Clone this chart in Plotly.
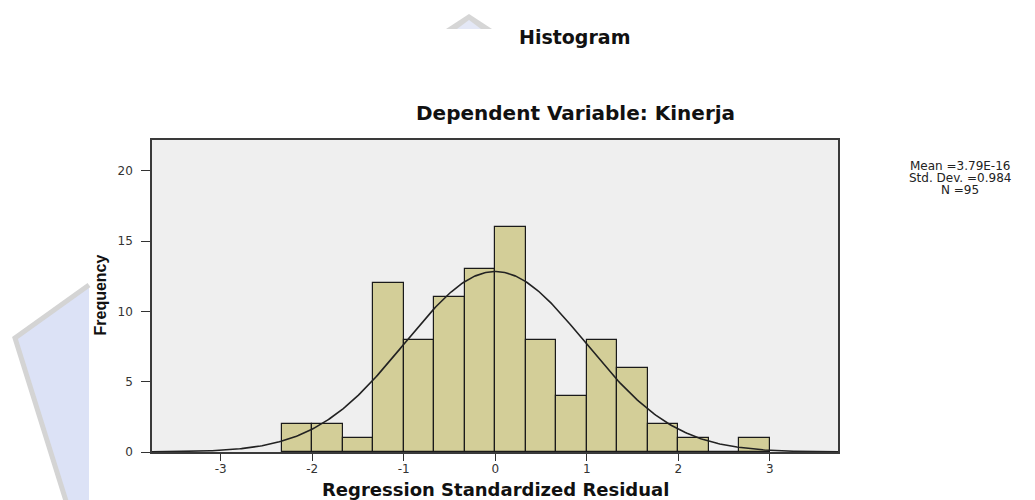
import numpy as np
import plotly.graph_objects as go

# ---- data ----
bin_left = [-7/3, -2.0, -5/3, -4/3, -1.0, -2/3, -1/3, 0.0, 1/3, 2/3, 1.0, 4/3, 5/3, 2.0, 7/3, 8/3]
counts = [2, 2, 1, 12, 8, 11, 13, 16, 8, 4, 8, 6, 2, 1, 0, 1]
bin_width = 1/3
mean_val = 3.79e-16
std_val = 0.984
n_val = 95
x_ticks = [-3, -2, -1, 0, 1, 2, 3]
y_ticks = [0, 5, 10, 15, 20]
stats_lines = ["Mean =3.79E-16", "Std. Dev. =0.984", "N =95"]

# ---- geometry (pixels) ----
W, H = 1035, 500
L, R, T, B = 152, 838, 140, 452
pw, ph = R - L, B - T


def px(x):
    return (x - L) / pw


def py(y):
    return (B - y) / ph


centers = [e + bin_width / 2 for e in bin_left]
xc = np.linspace(-3.75, 3.75, 400)
yc = n_val * bin_width * np.exp(-0.5 * ((xc - mean_val) / std_val) ** 2) / (std_val * np.sqrt(2 * np.pi))

fig = go.Figure()
fig.add_trace(go.Bar(x=centers, y=counts, width=bin_width,
                     marker=dict(color="#D3CE98", line=dict(color="#1a1a1a", width=1.2)),
                     hoverinfo="x+y"))
fig.add_trace(go.Scatter(x=xc, y=yc, mode="lines", line=dict(color="#222222", width=1.6),
                         hoverinfo="skip"))


def path(points):
    s = "M " + " L ".join(f"{px(a):.5f},{py(b):.5f}" for a, b in points)
    return s + " Z"


def line_path(points):
    return "M " + " L ".join(f"{px(a):.5f},{py(b):.5f}" for a, b in points)


shapes = [
    # left watermark
    dict(type="path", xref="paper", yref="paper", layer="below",
         path=path([(89, 285), (15, 338), (66, 500), (89, 500)]),
         fillcolor="#DCE2F6", line=dict(width=0)),
    dict(type="path", xref="paper", yref="paper", layer="below",
         path=line_path([(89, 285), (15, 338), (66, 501)]),
         line=dict(color="#D4D4D4", width=5)),
    # top watermark
    dict(type="path", xref="paper", yref="paper", layer="below",
         path=path([(469, 14), (446, 29), (492, 29)]),
         fillcolor="#D6D6D6", line=dict(width=0)),
    dict(type="path", xref="paper", yref="paper", layer="below",
         path=path([(469, 20), (457, 29), (481, 29)]),
         fillcolor="#E4E8F6", line=dict(width=0)),
]


def ann(text, x, y, size, family="DejaVu Sans", color="#111", angle=0):
    return dict(text=text, x=px(x), y=py(y), xref="paper", yref="paper",
                xanchor="center", yanchor="middle", textangle=angle,
                showarrow=False, font=dict(family=family, size=size, color=color))


annotations = [
    ann("<b>Histogram</b>", 574, 37, 19),
    ann("<b>Dependent Variable: Kinerja</b>", 575, 113, 20),
    ann("<b>Regression Standardized Residual</b>", 495, 489, 18),
    ann("<b>Frequency</b>", 99.5, 295, 16, family="Liberation Sans", angle=-90),
]
for i, s in enumerate(stats_lines):
    annotations.append(ann(s, 960, 166 + 12 * i, 12, color="#222"))

fig.update_layout(
    width=W, height=H,
    margin=dict(l=L, r=W - R, t=T, b=H - B),
    paper_bgcolor="white", plot_bgcolor="#EFEFEF",
    showlegend=False, bargap=0,
    shapes=shapes, annotations=annotations,
    font=dict(family="DejaVu Sans", size=12, color="#333"),
)
fig.update_xaxes(range=[-3.75, 3.745], tickvals=x_ticks, ticktext=[str(v) for v in x_ticks],
                 ticks="outside", ticklen=7, tickcolor="#333", tickwidth=1.2,
                 showline=True, linecolor="#3a3a3a", linewidth=1.5, mirror=True,
                 showgrid=False, zeroline=False, ticklabelstandoff=-2,
                 tickfont=dict(family="DejaVu Sans", size=12, color="#333"))
fig.update_yaxes(range=[0, 22.2], tickvals=y_ticks,
                 ticks="outside", ticklen=9, tickcolor="#333", tickwidth=1.2,
                 showline=True, linecolor="#3a3a3a", linewidth=1.5, mirror=True,
                 showgrid=False, zeroline=False, ticklabelstandoff=6,
                 tickfont=dict(family="DejaVu Sans", size=12, color="#333"))

fig.write_html("out.html", config={"displayModeBar": False},
               post_script="document.body.style.margin='0px';")
